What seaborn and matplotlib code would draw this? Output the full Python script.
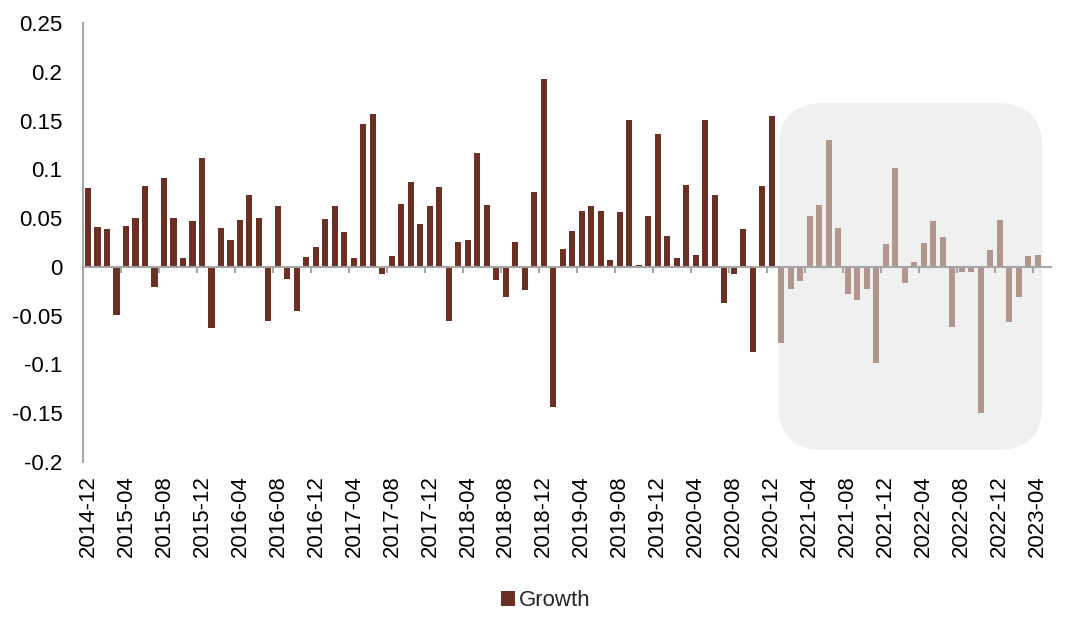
import numpy as np
import pandas as pd
import seaborn as sns
import matplotlib
matplotlib.use("Agg")
import matplotlib.pyplot as plt
from matplotlib.patches import FancyBboxPatch, Patch

# ---------------- data ----------------
months = pd.period_range("2014-12", "2023-04", freq="M").strftime("%Y-%m").tolist()

growth = [
    0.081, 0.041, 0.039, -0.049, 0.042, 0.050, 0.083, -0.021, 0.091, 0.050,   # 2014-12 .. 2015-09
    0.009, 0.047, 0.112, -0.063, 0.040, 0.028, 0.048, 0.074, 0.050, -0.056,   # 2015-10 .. 2016-07
    0.062, -0.012, -0.045, 0.010, 0.020, 0.049, 0.062, 0.036, 0.009, 0.147,   # 2016-08 .. 2017-05
    0.157, -0.007, 0.011, 0.065, 0.087, 0.044, 0.062, 0.082, -0.056, 0.026,   # 2017-06 .. 2018-03
    0.028, 0.117, 0.063, -0.014, -0.031, 0.026, -0.024, 0.077, 0.193, -0.144, # 2018-04 .. 2019-01
    0.018, 0.037, 0.057, 0.062, 0.057, 0.007, 0.056, 0.151, 0.0015, 0.052,    # 2019-02 .. 2019-11
    0.136, 0.032, 0.009, 0.084, 0.012, 0.151, 0.074, -0.037, -0.007, 0.039,   # 2019-12 .. 2020-09
    -0.087, 0.083, 0.155, -0.078, -0.023, -0.015, 0.052, 0.063, 0.130, 0.040, # 2020-10 .. 2021-07
    -0.028, -0.034, -0.023, -0.099, 0.023, 0.101, -0.017, 0.0045, 0.024, 0.047, # 2021-08 .. 2022-05
    0.031, -0.062, -0.0055, -0.0055, -0.150, 0.017, 0.048, -0.057, -0.031, 0.011, # 2022-06 .. 2023-03
    0.0125,                                                                     # 2023-04
]

highlight_start = "2021-01"
legend_label = "Growth"
y_ticks = [-0.2, -0.15, -0.1, -0.05, 0, 0.05, 0.1, 0.15, 0.2, 0.25]

df = pd.DataFrame({"month": months, "growth": growth})
df["period"] = np.where(df["month"] >= highlight_start, "recent", "history")

# ---------------- style ----------------
DARK = "#6B3023"
LIGHT = "#B0968D"
BOX = "#F0F0F0"
AXIS = "#A6A6A6"

sns.set_theme(style="white")
plt.rcParams["font.family"] = ["Liberation Sans", "DejaVu Sans"]
plt.rcParams["axes.unicode_minus"] = False

fig = plt.figure(figsize=(10.8, 6.34), dpi=100)
ax = fig.add_axes([0.0771, 0.2718, 0.974 - 0.0771, 0.9632 - 0.2718])

sns.barplot(
    data=df, x="month", y="growth", hue="period",
    palette={"history": DARK, "recent": LIGHT},
    dodge=False, width=0.64, saturation=1, legend=False, ax=ax, zorder=2,
    linewidth=0, edgecolor="none",
)

n = len(months)
ax.set_xlim(-0.5, n + 0.5)
ax.set_ylim(-0.2, 0.25)

# y axis
ax.set_yticks(y_ticks)
ax.set_yticklabels([f"{v:g}" for v in y_ticks], fontsize=16, color="black")
ax.tick_params(axis="y", length=0, pad=15)

# x axis labels every 4 months
ax.set_xticks(range(0, n, 4))
ax.set_xticklabels(months[::4], rotation=90, fontsize=16, color="black")
ax.tick_params(axis="x", length=0, pad=10)
ax.set_xlabel("")
ax.set_ylabel("")

for s in ["top", "right", "bottom"]:
    ax.spines[s].set_visible(False)
ax.spines["left"].set_color(AXIS)
ax.spines["left"].set_linewidth(1.5)

# zero line with small category ticks
ax.axhline(0, color=AXIS, lw=1.5, zorder=3)
tick_pos = np.arange(3.5, n - 1, 4)
ax.vlines(tick_pos, -0.006, 0, color=AXIS, lw=1.5, zorder=3)

# rounded highlight box behind the recent period
i0 = months.index(highlight_start)
x0, x1 = i0 - 0.3, n - 0.5
y0, y1 = -0.188, 0.168
fig.canvas.draw()
(px0, py0) = ax.transData.transform((x0, y0))
(px1, py1) = ax.transData.transform((x1, y1))
inv = fig.dpi_scale_trans.inverted()
(ix0, iy0) = inv.transform((px0, py0))
(ix1, iy1) = inv.transform((px1, py1))
rad = 0.45
box = FancyBboxPatch(
    (ix0 + rad, iy0 + rad), (ix1 - ix0) - 2 * rad, (iy1 - iy0) - 2 * rad,
    boxstyle=f"round,pad={rad}", transform=fig.dpi_scale_trans,
    facecolor=BOX, edgecolor="none", zorder=0,
)
ax.add_patch(box)

# legend
handle = Patch(facecolor=DARK, edgecolor="none", label=legend_label)
fig.legend(
    handles=[handle], loc="center", bbox_to_anchor=(0.505, 0.053),
    frameon=False, fontsize=16, handlelength=0.65, handleheight=0.65,
    handletextpad=0.15,
)

fig.savefig("out.png", dpi=100)
